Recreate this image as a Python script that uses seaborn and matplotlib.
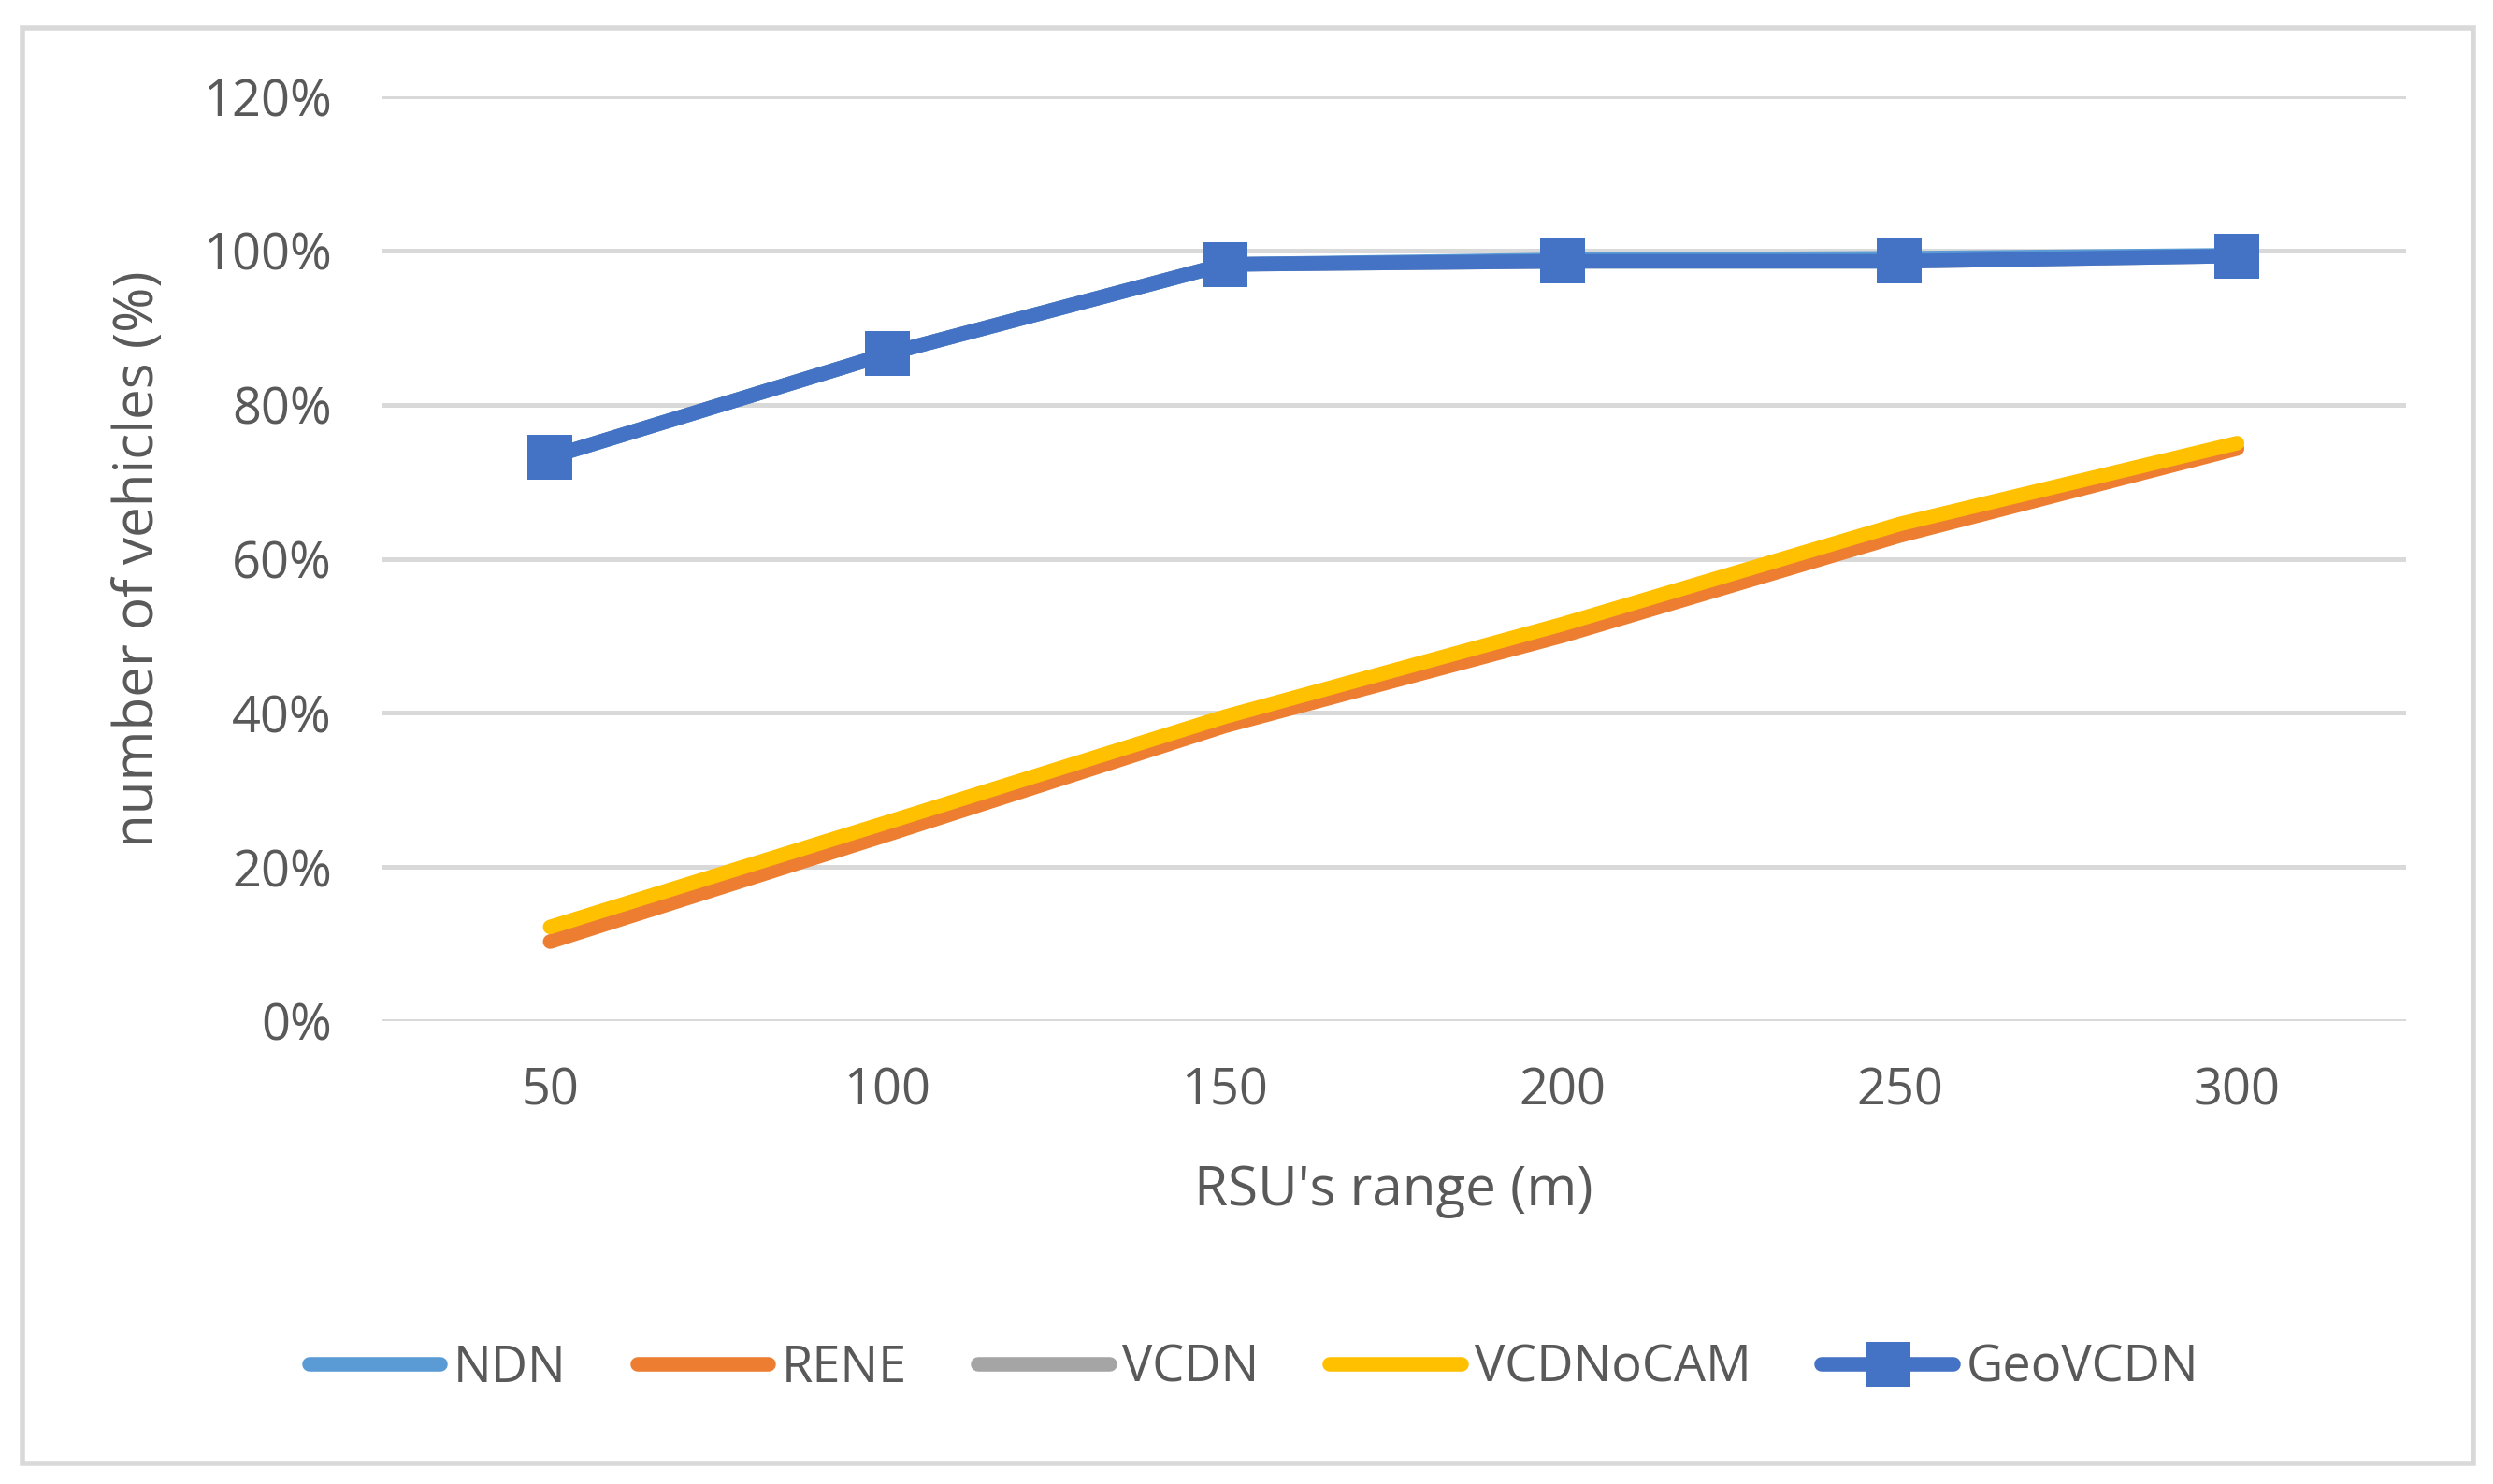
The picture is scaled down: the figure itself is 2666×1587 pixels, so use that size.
import matplotlib
matplotlib.use("Agg")
import matplotlib.pyplot as plt
from matplotlib.lines import Line2D
from matplotlib.patches import Rectangle
import pandas as pd
import seaborn as sb

# values (fraction of vehicles)
ranges = ["50", "100", "150", "200", "250", "300"]
ndn = [0.732, 0.866, 0.982, 0.988, 0.990, 0.994]
rene = [0.103, 0.242, 0.383, 0.500, 0.630, 0.743]
vcdn = [0.732, 0.866, 0.982, 0.986, 0.986, 0.993]
vcdnocam = [0.122, 0.258, 0.395, 0.515, 0.645, 0.750]
geovcdn = [0.732, 0.866, 0.982, 0.986, 0.986, 0.993]

series = ["NDN", "RENE", "VCDN", "VCDNoCAM", "GeoVCDN"]
colors = {"NDN": "#5B9BD5", "RENE": "#ED7D31", "VCDN": "#A5A5A5",
          "VCDNoCAM": "#FFC000", "GeoVCDN": "#4472C4"}

df = pd.DataFrame({"range": ranges * 5,
                   "value": ndn + rene + vcdn + vcdnocam + geovcdn,
                   "series": [s for s in series for _ in ranges]})

sb.set_theme(style="white")
plt.rcParams["font.family"] = ["Open Sans", "DejaVu Sans"]
text_col = "#595959"
fs = 19.5

fig = plt.figure(figsize=(13.33, 7.935), dpi=200)
ax = fig.add_axes([0.153, 0.312, 0.812, 0.623])

lw = 5.6
# draw order: hidden lines first, GeoVCDN on top
for name in ["VCDN", "NDN", "RENE", "VCDNoCAM"]:
    sub = df[df["series"] == name]
    sb.lineplot(data=sub, x="range", y="value", color=colors[name], linewidth=lw,
                ax=ax, sort=False, legend=False)
sub = df[df["series"] == "GeoVCDN"]
sb.lineplot(data=sub, x="range", y="value", color=colors["GeoVCDN"], linewidth=lw,
            marker="s", markersize=17, markeredgewidth=0, ax=ax, sort=False, legend=False)

ax.set_xlim(-0.5, 5.5)
ax.set_ylim(0, 1.2)
ax.set_yticks([0, 0.2, 0.4, 0.6, 0.8, 1.0, 1.2])
ax.set_yticklabels(["0%", "20%", "40%", "60%", "80%", "100%", "120%"])
ax.yaxis.grid(True, color="#D9D9D9", linewidth=1.8)
ax.set_axisbelow(True)
for s in ax.spines.values():
    s.set_visible(False)
ax.tick_params(axis="both", length=0, labelsize=fs, labelcolor=text_col)
ax.tick_params(axis="y", pad=19)
ax.tick_params(axis="x", pad=17)

ax.set_xlabel("RSU's range (m)", fontsize=21, color=text_col, labelpad=18)
ax.set_ylabel("number of vehicles (%)", fontsize=21, color=text_col, labelpad=14)
ax.yaxis.label.set_fontstretch("expanded")

handles = []
for name in series:
    if name == "GeoVCDN":
        handles.append(Line2D([], [], color=colors[name], linewidth=lw, marker="s",
                              markersize=17, markeredgewidth=0))
    else:
        handles.append(Line2D([], [], color=colors[name], linewidth=lw))
leg = fig.legend(handles, series, loc="center", bbox_to_anchor=(0.503, 0.078), ncol=5,
                 frameon=False, fontsize=fs, handlelength=2.6, handletextpad=0.25,
                 columnspacing=1.4)
for t in leg.get_texts():
    t.set_color(text_col)

# light frame round the whole chart
fig.patches.append(Rectangle((0.009, 0.014), 0.983, 0.967, transform=fig.transFigure,
                             fill=False, edgecolor="#D9D9D9", linewidth=2))

fig.savefig("out.png", dpi=200)
plt.close(fig)
